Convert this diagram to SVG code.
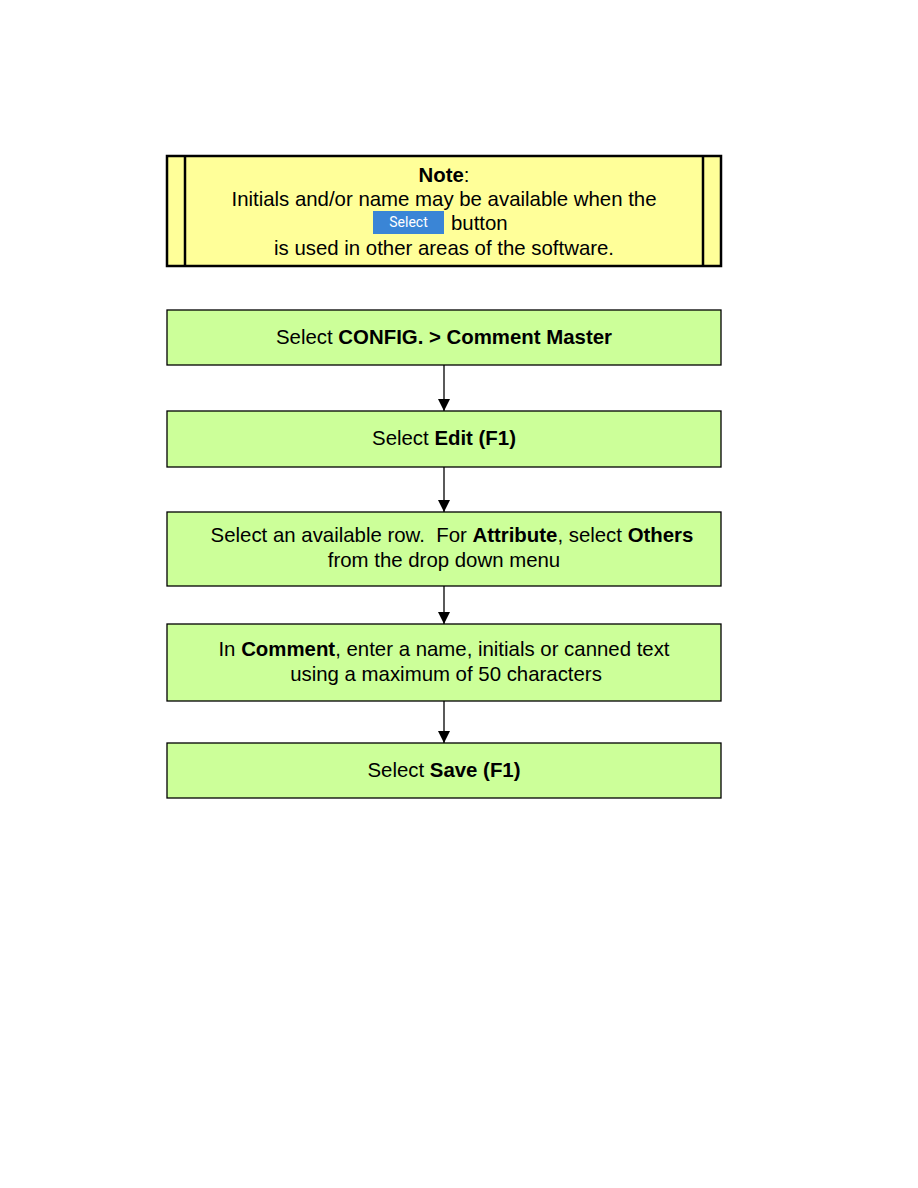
<svg xmlns="http://www.w3.org/2000/svg" width="918" height="1188" viewBox="0 0 918 1188">
<style>
text{font-family:"Liberation Sans",Arial,sans-serif;font-size:20.4px;fill:#000}
.b{font-weight:bold}
.box{fill:#ccff99;stroke:#000;stroke-width:1.3}
.conn{stroke:#000;stroke-width:1.3;fill:none}
</style>
<defs>
<marker id="ah" viewBox="0 0 12 12" refX="12" refY="6" markerWidth="12" markerHeight="12" markerUnits="userSpaceOnUse" orient="auto"><path d="M0,0L12,6L0,12z" fill="#000"/></marker>
</defs>
<rect width="918" height="1188" fill="#fff"/>
<g id="note">
<rect x="167" y="156" width="554" height="110" fill="#ffff99" stroke="#000" stroke-width="2.5"/>
<line x1="185" y1="156" x2="185" y2="266" stroke="#000" stroke-width="2.5"/>
<line x1="703" y1="156" x2="703" y2="266" stroke="#000" stroke-width="2.5"/>
<text x="444" y="182" text-anchor="middle"><tspan class="b">Note</tspan>:</text>
<text x="444" y="206" text-anchor="middle">Initials and/or name may be available when the</text>
<rect x="373" y="211" width="71" height="23" fill="#3a85d6"/>
<text x="408.5" y="227" text-anchor="middle" style="font-size:14px;fill:#fff;font-family:Roboto,'Liberation Sans',sans-serif">Select</text>
<text x="451" y="230">button</text>
<text x="444" y="255" text-anchor="middle">is used in other areas of the software.</text>
</g>
<g id="n1">
<rect class="box" x="167" y="310" width="554" height="55"/>
<text x="444" y="344" text-anchor="middle">Select <tspan class="b">CONFIG. &gt; Comment Master</tspan></text>
</g>
<g id="n2">
<rect class="box" x="167" y="411" width="554" height="56"/>
<text x="444" y="445" text-anchor="middle">Select <tspan class="b">Edit (F1)</tspan></text>
</g>
<g id="n3">
<rect class="box" x="167" y="512" width="554" height="74"/>
<text x="452" y="542" text-anchor="middle" xml:space="preserve">Select an available row.  For <tspan class="b">Attribute</tspan>, select <tspan class="b">Others</tspan></text>
<text x="444" y="567" text-anchor="middle">from the drop down menu</text>
</g>
<g id="n4">
<rect class="box" x="167" y="624" width="554" height="77"/>
<text x="444" y="656" text-anchor="middle">In <tspan class="b">Comment</tspan>, enter a name, initials or canned text</text>
<text x="446" y="681" text-anchor="middle">using a maximum of 50 characters</text>
</g>
<g id="n5">
<rect class="box" x="167" y="743" width="554" height="55"/>
<text x="444" y="777" text-anchor="middle">Select <tspan class="b">Save (F1)</tspan></text>
</g>
<g id="connectors">
<line class="conn" x1="444" y1="365" x2="444" y2="411" marker-end="url(#ah)"/>
<line class="conn" x1="444" y1="467" x2="444" y2="512" marker-end="url(#ah)"/>
<line class="conn" x1="444" y1="586" x2="444" y2="624" marker-end="url(#ah)"/>
<line class="conn" x1="444" y1="701" x2="444" y2="743" marker-end="url(#ah)"/>
</g>
</svg>
